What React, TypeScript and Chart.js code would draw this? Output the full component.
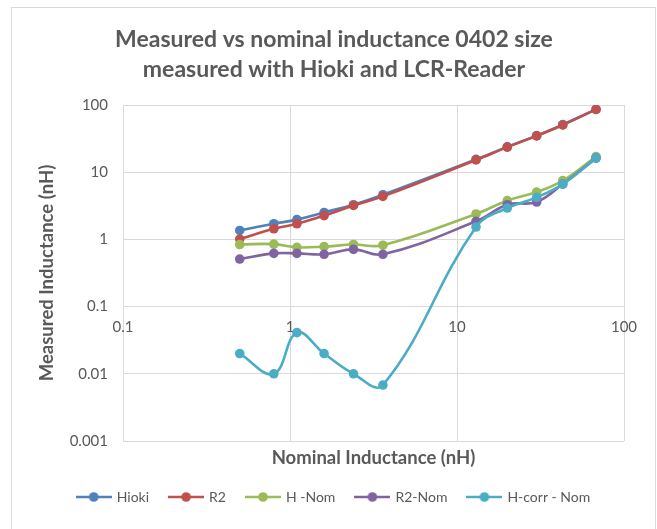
import React, { useEffect, useRef } from "react";
import { Chart, registerables } from "chart.js";

Chart.register(...registerables);

const nominal = [0.5, 0.8, 1.1, 1.6, 2.4, 3.6, 13, 20, 30, 43, 68];
const hioki = [1.36, 1.71, 1.97, 2.52, 3.28, 4.62, 15.5, 23.8, 35, 51, 86];
const r2 = [1.01, 1.44, 1.71, 2.26, 3.2, 4.37, 15.2, 23.6, 34.7, 50.5, 86];
const hNom = [0.84, 0.85, 0.76, 0.78, 0.84, 0.82, 2.39, 3.77, 5.07, 7.5, 17.1];
const r2Nom = [0.51, 0.62, 0.62, 0.6, 0.71, 0.6, 1.86, 3.28, 3.6, 6.66, 16.2];
const hCorrNom = [0.02, 0.01, 0.041, 0.02, 0.01, 0.0068, 1.53, 2.93, 4.22, 6.66, 16.2];

const seriesNames = ["Hioki", "R2", "H -Nom", "R2-Nom", "H-corr - Nom"];
const seriesColors = ["#4F81BD", "#C0504D", "#9BBB59", "#8064A2", "#4BACC6"];
const seriesValues = [hioki, r2, hNom, r2Nom, hCorrNom];

const xTicks = [0.1, 1, 10, 100];
const xTickLabels = ["0.1", "1", "10", "100"];
const yTicks = [0.001, 0.01, 0.1, 1, 10, 100];
const yTickLabels = ["0.001", "0.01", "0.1", "1", "10", "100"];

const titleLines = ["Measured vs nominal inductance 0402 size", "measured with Hioki and LCR-Reader"];
const xTitle = "Nominal Inductance (nH)";
const yTitle = "Measured Inductance (nH)";

const TEXT = "#595959";
const GRID = "#d9d9d9";
const FONT = "Lato";

function legendImage(color: string): HTMLCanvasElement {
  const c = document.createElement("canvas");
  c.width = 36;
  c.height = 12;
  const ctx = c.getContext("2d")!;
  ctx.strokeStyle = color;
  ctx.lineWidth = 2.5;
  ctx.beginPath();
  ctx.moveTo(0, 6);
  ctx.lineTo(36, 6);
  ctx.stroke();
  ctx.fillStyle = color;
  ctx.beginPath();
  ctx.arc(18, 6, 4.8, 0, Math.PI * 2);
  ctx.fill();
  return c;
}

const frame = {
  id: "frame",
  beforeDraw(chart: any) {
    const ctx = chart.ctx;
    ctx.save();
    ctx.strokeStyle = GRID;
    ctx.lineWidth = 1;
    ctx.strokeRect(11.5, 7.5, 644, 600);
    ctx.restore();
  },
};

export default function App() {
  const ref = useRef<HTMLCanvasElement | null>(null);
  useEffect(() => {
    if (!ref.current) return;
    const images = seriesColors.map(legendImage);
    const datasets = seriesValues.map((vals, i) => ({
      label: seriesNames[i],
      data: nominal.map((x, j) => ({ x, y: vals[j] })),
      borderColor: seriesColors[i],
      backgroundColor: seriesColors[i],
      pointBackgroundColor: seriesColors[i],
      pointBorderColor: seriesColors[i],
      pointRadius: 4.8,
      pointBorderWidth: 0,
      borderWidth: 2.6,
      tension: 0.4,
      fill: false,
      order: seriesValues.length - i,
    }));
    const chart = new Chart(ref.current, {
      type: "line",
      data: { datasets },
      plugins: [frame],
      options: {
        animation: false,
        responsive: false,
        layout: { padding: { left: 11, right: 0, top: 0, bottom: 15 } },
        plugins: {
          tooltip: { enabled: false },
          title: {
            display: true,
            text: titleLines,
            color: TEXT,
            font: { family: FONT, size: 23, weight: "bold", lineHeight: "30px" },
            padding: { top: 25, bottom: 20 },
          },
          legend: {
            position: "bottom",
            labels: {
              usePointStyle: true,
              pointStyleWidth: 32,
              padding: 21,
              color: TEXT,
              font: { family: FONT, size: 14 },
              generateLabels: () =>
                seriesNames.map((n, i) => ({
                  text: n,
                  pointStyle: images[i] as any,
                  fillStyle: seriesColors[i],
                  strokeStyle: seriesColors[i],
                  lineWidth: 0,
                  hidden: false,
                  datasetIndex: i,
                  fontColor: TEXT,
                })),
            },
          },
        },
        scales: {
          x: {
            type: "logarithmic",
            min: 0.1,
            max: 100,
            position: { y: 0.1 } as any,
            afterBuildTicks: (s: any) => {
              s.ticks = xTicks.map((v) => ({ value: v, major: true }));
            },
            ticks: {
              autoSkip: false,
              maxRotation: 0,
              padding: 12,
              color: TEXT,
              font: { family: FONT, size: 15 },
              callback: (_v: any, i: number) => xTickLabels[i],
            },
            grid: { color: GRID, drawTicks: false, lineWidth: 1 },
            border: { display: false },
          },
          x2: {
            type: "logarithmic",
            axis: "x",
            position: "bottom",
            min: 0.1,
            max: 100,
            grid: { display: false },
            border: { display: false },
            ticks: { display: false },
            title: {
              display: true,
              text: xTitle,
              color: TEXT,
              font: { family: FONT, size: 18.5, weight: "bold" },
              padding: { top: 0, bottom: 0 },
            },
            afterFit: (s: any) => {
              s.height = 28;
            },
          } as any,
          y: {
            type: "logarithmic",
            min: 0.001,
            max: 100,
            position: "left",
            afterBuildTicks: (s: any) => {
              s.ticks = yTicks.map((v) => ({ value: v, major: true }));
            },
            afterFit: (s: any) => {
              s.width = 112;
            },
            ticks: {
              padding: 15,
              color: TEXT,
              font: { family: FONT, size: 15 },
              callback: (_v: any, i: number) => yTickLabels[i],
            },
            grid: { color: GRID, drawTicks: false, lineWidth: 1 },
            border: { display: false },
            title: {
              display: true,
              text: yTitle,
              color: TEXT,
              font: { family: FONT, size: 18.5, weight: "bold" },
              padding: { top: 25, bottom: 0 },
            },
          },
          yR: {
            type: "linear",
            axis: "y",
            position: "right",
            grid: { display: false },
            border: { display: false },
            ticks: { display: false },
            afterFit: (s: any) => {
              s.width = 33;
            },
          } as any,
        },
      },
    });
    return () => chart.destroy();
  }, []);
  return (
    <div style={{ position: "absolute", left: 0, top: 0, width: 657, height: 529, background: "#fff" }}>
      <canvas ref={ref} width={657} height={529} style={{ width: 657, height: 529 }} />
    </div>
  );
}
